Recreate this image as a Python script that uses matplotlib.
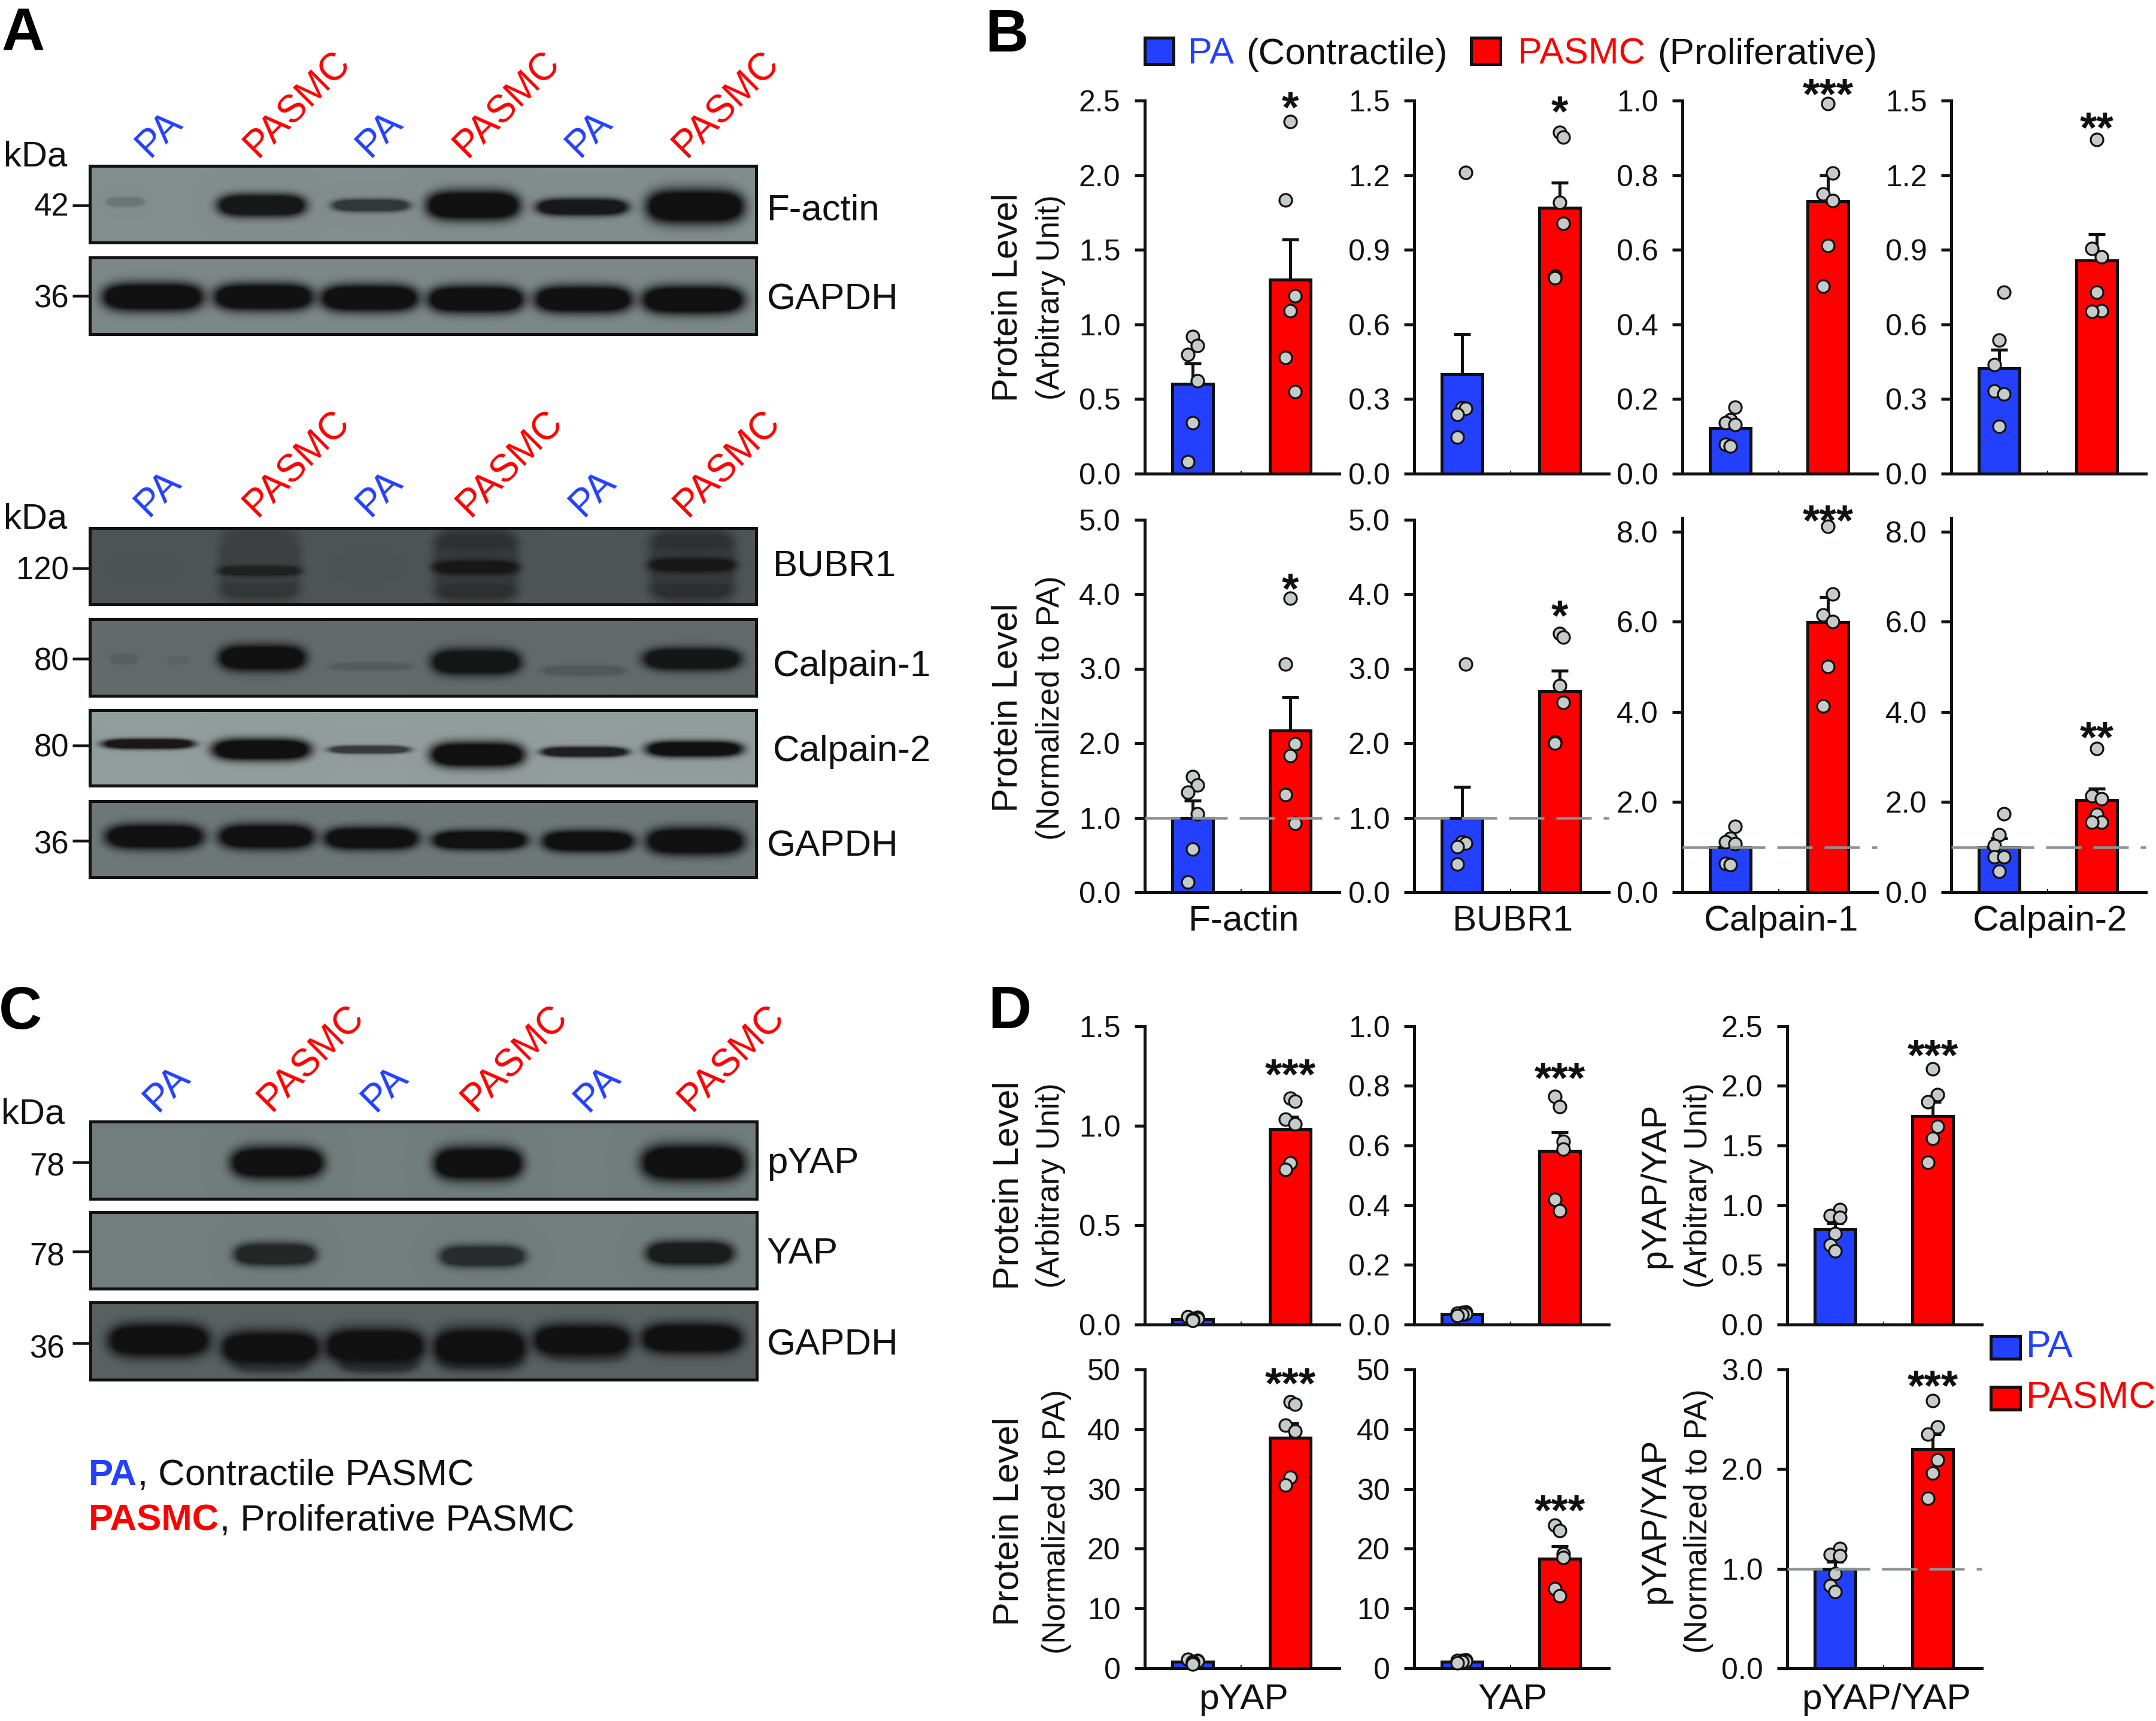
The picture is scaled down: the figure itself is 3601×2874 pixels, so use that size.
import numpy as np
import matplotlib
matplotlib.use("Agg")
import matplotlib.pyplot as plt
from matplotlib.patches import Rectangle

plt.rcParams['font.family'] = ['Liberation Sans', 'DejaVu Sans']
plt.rcParams['lines.scale_dashes'] = False

W, H = 3601, 2874
DPI = 100
PT = 72 / DPI  # points per pixel
TY = 6  # optical centring of text, px

BLUE = '#2340FF'
RED = '#FF0000'
DOT = '#C4CBC8'
INK = '#111111'
DASH = '#8B9393'

groups = ['PA', 'PASMC']

# ---------- panel B, arbitrary units ----------
factin_au_mean = [0.60, 1.30]
factin_au_sem = [0.14, 0.27]
factin_au_pa = [0.92, 0.86, 0.80, 0.62, 0.34, 0.08]
factin_au_pasmc = [2.36, 1.835, 1.19, 1.09, 0.78, 0.55]
bubr1_au_mean = [0.40, 1.07]
bubr1_au_sem = [0.16, 0.10]
bubr1_au_pa = [1.21, 0.266, 0.263, 0.238, 0.148]
bubr1_au_pasmc = [1.372, 1.354, 1.09, 1.007, 0.794, 0.788]
calp1_au_mean = [0.122, 0.731]
calp1_au_sem = [0.018, 0.069]
calp1_au_pa = [0.178, 0.144, 0.136, 0.132, 0.078, 0.074]
calp1_au_pasmc = [0.992, 0.805, 0.749, 0.732, 0.611, 0.503]
calp2_au_mean = [0.424, 0.856]
calp2_au_sem = [0.074, 0.106]
calp2_au_pa = [0.73, 0.536, 0.438, 0.333, 0.321, 0.191]
calp2_au_pasmc = [1.344, 0.905, 0.871, 0.73, 0.655, 0.652]

# ---------- panel B, normalized ----------
factin_n_mean = [1.0, 2.166]
factin_n_sem = [0.23, 0.454]
factin_n_pa = [1.55, 1.44, 1.34, 1.05, 0.58, 0.14]
factin_n_pasmc = [3.94, 3.06, 1.99, 1.83, 1.31, 0.92]
bubr1_n_mean = [1.0, 2.70]
bubr1_n_sem = [0.41, 0.27]
bubr1_n_pa = [3.06, 0.675, 0.66, 0.61, 0.38]
bubr1_n_pasmc = [3.47, 3.42, 2.77, 2.55, 2.02, 2.0]
calp1_n_mean = [1.0, 5.99]
calp1_n_sem = [0.16, 0.56]
calp1_n_pa = [1.46, 1.20, 1.12, 1.08, 0.64, 0.61]
calp1_n_pasmc = [8.12, 6.61, 6.15, 6.0, 5.0, 4.13]
calp2_n_mean = [1.0, 2.04]
calp2_n_sem = [0.19, 0.26]
calp2_n_pa = [1.74, 1.28, 1.04, 0.79, 0.78, 0.46]
calp2_n_pasmc = [3.19, 2.14, 2.07, 1.73, 1.56, 1.56]

# ---------- panel D, arbitrary units ----------
pyap_au_mean = [0.027, 0.98]
pyap_au_sem = [0.004, 0.063]
pyap_au_pa = [0.040, 0.036, 0.030, 0.028, 0.022, 0.020]
pyap_au_pasmc = [1.137, 1.122, 1.033, 1.007, 0.812, 0.778]
yap_au_mean = [0.035, 0.582]
yap_au_sem = [0.003, 0.063]
yap_au_pa = [0.042, 0.040, 0.038, 0.036, 0.034, 0.030]
yap_au_pasmc = [0.764, 0.731, 0.613, 0.588, 0.42, 0.382]
ratio_au_mean = [0.80, 1.748]
ratio_au_sem = [0.05, 0.119]
ratio_au_pa = [0.962, 0.912, 0.90, 0.76, 0.668, 0.616]
ratio_au_pasmc = [2.142, 1.925, 1.867, 1.66, 1.56, 1.359]

# ---------- panel D, normalized ----------
pyap_n_mean = [1.09, 38.6]
pyap_n_sem = [0.15, 2.4]
pyap_n_pa = [1.5, 1.35, 1.2, 1.1, 0.9, 0.7]
pyap_n_pasmc = [44.6, 44.2, 40.7, 39.7, 32.0, 30.7]
yap_n_mean = [1.09, 18.3]
yap_n_sem = [0.10, 2.1]
yap_n_pa = [1.4, 1.35, 1.3, 1.2, 1.1, 0.95]
yap_n_pasmc = [23.9, 23.0, 19.1, 18.5, 13.3, 12.1]
ratio_n_mean = [1.0, 2.20]
ratio_n_sem = [0.07, 0.15]
ratio_n_pa = [1.20, 1.14, 1.13, 0.95, 0.83, 0.77]
ratio_n_pasmc = [2.69, 2.42, 2.35, 2.09, 1.96, 1.71]

# horizontal scatter of the dots, one pattern per panel column
factin_jit_pa = [0, .05, -.05, .05, 0, -.05]
factin_jit_pasmc = [0, -.05, .05, 0, -.05, .05]
bubr1_jit_pa = [.04, 0, .04, -.05, -.05]
bubr1_jit_pasmc = [0, .04, 0, .04, -.05, -.05]
calp1_jit_pa = [.05, 0, -.05, .05, -.05, 0]
calp1_jit_pasmc = [0, .05, -.05, .05, 0, -.05]
calp2_jit_pa = [.05, 0, -.05, -.05, .05, 0]
calp2_jit_pasmc = [0, -.05, .05, 0, .05, -.05]
pyap_jit_pa = [-.05, .05, .05, 0, 0, 0]
pyap_jit_pasmc = [0, .05, -.05, .05, 0, -.05]
yap_jit_pa = [.04, 0, -.05, .04, 0, -.05]
yap_jit_pasmc = [-.05, 0, .04, .04, -.05, 0]
ratio_jit_pa = [.05, -.05, .05, 0, -.05, 0]
ratio_jit_pasmc = [0, .05, -.05, .05, 0, -.05]

# ticks
ticks_25 = [0.0, 0.5, 1.0, 1.5, 2.0, 2.5]
ticks_15_3 = [0.0, 0.3, 0.6, 0.9, 1.2, 1.5]
ticks_10_2 = [0.0, 0.2, 0.4, 0.6, 0.8, 1.0]
ticks_50_1 = [0.0, 1.0, 2.0, 3.0, 4.0, 5.0]
ticks_80 = [0.0, 2.0, 4.0, 6.0, 8.0]
ticks_15_5 = [0.0, 0.5, 1.0, 1.5]
ticks_50int = [0, 10, 20, 30, 40, 50]
ticks_30 = [0.0, 1.0, 2.0, 3.0]

# significance marks and the height they sit at
stars_b_top = ['*', '*', '***', '**']
stars_b_top_y = [2.51, 1.488, 1.039, 1.424]
stars_b_bot = ['*', '*', '***', '**']
stars_b_bot_y = [4.18, 3.82, 8.43, 3.62]
stars_d_top = ['***', '***', '***']
stars_d_top_y = [1.298, 0.854, 2.324]
stars_d_bot = ['***', '***', '***']
stars_d_bot_y = [49.07, 27.8, 2.915]

xlabels_b = ['F-actin', 'BUBR1', 'Calpain-1', 'Calpain-2']
xlabels_d = ['pYAP', 'YAP', 'pYAP/YAP']

fig = plt.figure(figsize=(W / DPI, H / DPI), dpi=DPI, facecolor='white')


def px_axes(x0, top, x1, bottom, **kw):
    return fig.add_axes([x0 / W, 1 - bottom / H, (x1 - x0) / W, (bottom - top) / H], **kw)


def bar_panel(x0, top, bottom, ymax, ticks, fmt, mean, sem, pa, pasmc, jit_pa, jit_pasmc,
              star, star_y, xlabel=None, xlabel_y=None, ref=False):
    ax = px_axes(x0, top, x0 + 325, bottom)
    ax.set_xlim(-0.49, 1.504)
    ax.set_ylim(0, ymax)
    ax.patch.set_alpha(0)
    lw = 5 * PT
    ax.bar([0, 1], mean, width=0.417, color=[BLUE, RED], edgecolor=INK, linewidth=lw, zorder=2)
    for i in (0, 1):
        ax.errorbar(i, mean[i], yerr=[[0], [sem[i]]], color=INK, elinewidth=lw,
                    capsize=14 * PT, capthick=lw, zorder=1.5, fmt='none')
    ax.plot(np.array(jit_pa), pa, 'o', ms=21 * PT, mfc=DOT, mec=INK, mew=3.2 * PT, zorder=4, clip_on=False)
    ax.plot(1 + np.array(jit_pasmc), pasmc, 'o', ms=21 * PT, mfc=DOT, mec=INK, mew=3.2 * PT, zorder=4, clip_on=False)
    if ref:
        ax.plot([-0.49, 1.504], [1, 1], color=DASH, lw=4.5 * PT, dashes=(59 * PT, 20 * PT),
                dash_capstyle='butt', zorder=5, clip_on=False)
    for s in ('top', 'right'):
        ax.spines[s].set_visible(False)
    for s in ('left', 'bottom'):
        ax.spines[s].set_linewidth(lw)
        ax.spines[s].set_color(INK)
    ax.set_xticks([0.5])
    ax.set_xticklabels([''])
    ax.tick_params(axis='x', length=5 * PT, width=2 * PT, direction='in', color=INK)
    ax.set_yticks(ticks)
    ax.set_yticklabels([fmt % t for t in ticks], fontsize=36, color=INK)
    ax.tick_params(axis='y', length=17 * PT, width=lw, pad=17, color=INK)
    em = 73
    y_px = bottom - (bottom - top) * star_y / ymax + 0.58 * em - 5
    ov.text(x0 + 243, y_px, star, fontsize=em * PT, fontweight='bold', ha='center', va='baseline', color=INK)
    if xlabel:
        ov.text(x0 + 165, xlabel_y, xlabel, fontsize=43.5, ha='center', va='center', color=INK)
    return ax


# overlay in pixel coordinates for everything that is not a plot
ov = fig.add_axes([0, 0, 1, 1], zorder=10)
ov.set_xlim(0, W)
ov.set_ylim(H, 0)
ov.axis('off')

XS = [1912, 2362, 2810, 3259]
# panel B
B1 = (168, 791)
B2 = (867.5, 1490)
bar_panel(XS[0], *B1, 2.5, ticks_25, '%.1f', factin_au_mean, factin_au_sem, factin_au_pa, factin_au_pasmc, factin_jit_pa, factin_jit_pasmc, stars_b_top[0], stars_b_top_y[0])
bar_panel(XS[1], *B1, 1.5, ticks_15_3, '%.1f', bubr1_au_mean, bubr1_au_sem, bubr1_au_pa, bubr1_au_pasmc, bubr1_jit_pa, bubr1_jit_pasmc, stars_b_top[1], stars_b_top_y[1])
bar_panel(XS[2], *B1, 1.0, ticks_10_2, '%.1f', calp1_au_mean, calp1_au_sem, calp1_au_pa, calp1_au_pasmc, calp1_jit_pa, calp1_jit_pasmc, stars_b_top[2], stars_b_top_y[2])
bar_panel(XS[3], *B1, 1.5, ticks_15_3, '%.1f', calp2_au_mean, calp2_au_sem, calp2_au_pa, calp2_au_pasmc, calp2_jit_pa, calp2_jit_pasmc, stars_b_top[3], stars_b_top_y[3])
XLB = 1538
bar_panel(XS[0], *B2, 5.0, ticks_50_1, '%.1f', factin_n_mean, factin_n_sem, factin_n_pa, factin_n_pasmc, factin_jit_pa, factin_jit_pasmc, stars_b_bot[0], stars_b_bot_y[0], xlabels_b[0], XLB, True)
bar_panel(XS[1], *B2, 5.0, ticks_50_1, '%.1f', bubr1_n_mean, bubr1_n_sem, bubr1_n_pa, bubr1_n_pasmc, bubr1_jit_pa, bubr1_jit_pasmc, stars_b_bot[1], stars_b_bot_y[1], xlabels_b[1], XLB, True)
bar_panel(XS[2], 865, 1490, 8.3, ticks_80, '%.1f', calp1_n_mean, calp1_n_sem, calp1_n_pa, calp1_n_pasmc, calp1_jit_pa, calp1_jit_pasmc, stars_b_bot[2], stars_b_bot_y[2], xlabels_b[2], XLB, True)
bar_panel(XS[3], 865, 1490, 8.3, ticks_80, '%.1f', calp2_n_mean, calp2_n_sem, calp2_n_pa, calp2_n_pasmc, calp2_jit_pa, calp2_jit_pasmc, stars_b_bot[3], stars_b_bot_y[3], xlabels_b[3], XLB, True)

# panel D
XD = [1912, 2362, 2985]
D1 = (1713.6, 2212)
D2 = (2287, 2786)
XLD = 2838
bar_panel(XD[0], *D1, 1.5, ticks_15_5, '%.1f', pyap_au_mean, pyap_au_sem, pyap_au_pa, pyap_au_pasmc, pyap_jit_pa, pyap_jit_pasmc, stars_d_top[0], stars_d_top_y[0])
bar_panel(XD[1], *D1, 1.0, ticks_10_2, '%.1f', yap_au_mean, yap_au_sem, yap_au_pa, yap_au_pasmc, yap_jit_pa, yap_jit_pasmc, stars_d_top[1], stars_d_top_y[1])
bar_panel(XD[2], *D1, 2.5, ticks_25, '%.1f', ratio_au_mean, ratio_au_sem, ratio_au_pa, ratio_au_pasmc, ratio_jit_pa, ratio_jit_pasmc, stars_d_top[2], stars_d_top_y[2])
bar_panel(XD[0], *D2, 50, ticks_50int, '%d', pyap_n_mean, pyap_n_sem, pyap_n_pa, pyap_n_pasmc, pyap_jit_pa, pyap_jit_pasmc, stars_d_bot[0], stars_d_bot_y[0], xlabels_d[0], XLD)
bar_panel(XD[1], *D2, 50, ticks_50int, '%d', yap_n_mean, yap_n_sem, yap_n_pa, yap_n_pasmc, yap_jit_pa, yap_jit_pasmc, stars_d_bot[1], stars_d_bot_y[1], xlabels_d[1], XLD)
bar_panel(XD[2], *D2, 3.0, ticks_30, '%.1f', ratio_n_mean, ratio_n_sem, ratio_n_pa, ratio_n_pasmc, ratio_jit_pa, ratio_jit_pasmc, stars_d_bot[2], stars_d_bot_y[2], xlabels_d[2], XLD, True)


def vtext(x, y, s, size):
    ov.text(x, y, s, fontsize=size, rotation=90, ha='center', va='center', color=INK)


vtext(1683, 497, 'Protein Level', 43)
vtext(1755, 497, '(Arbitrary Unit)', 38)
vtext(1683, 1182, 'Protein Level', 43)
vtext(1755, 1182, '(Normalized to PA)', 38)
vtext(1685, 1980, 'Protein Level', 43)
vtext(1755, 1980, '(Arbitrary Unit)', 38)
vtext(1685, 2541, 'Protein Level', 43)
vtext(1765, 2541, '(Normalized to PA)', 38)
vtext(2765, 1980, 'pYAP/YAP', 42.5)
vtext(2837, 1980, '(Arbitrary Unit)', 38)
vtext(2765, 2540, 'pYAP/YAP', 42.5)
vtext(2837, 2540, '(Normalized to PA)', 38)


# ---------- legends ----------
def swatch(x0, y0, x1, y1, color):
    ov.add_patch(Rectangle((x0, y0), x1 - x0, y1 - y0, facecolor=color, edgecolor=INK, linewidth=5 * PT))


swatch(1912, 63, 1960, 107, BLUE)
swatch(2457, 63, 2506, 107, RED)
ov.text(1984, 85 + TY, 'PA', fontsize=44, color=BLUE, ha='left', va='center')
ov.text(2081, 85 + TY, '(Contractile)', fontsize=44.5, color=INK, ha='left', va='center')
ov.text(2535, 85 + TY, 'PASMC', fontsize=44, color=RED, ha='left', va='center')
ov.text(2768, 85 + TY, '(Proliferative)', fontsize=44.5, color=INK, ha='left', va='center')

swatch(3325, 2231, 3374, 2269, BLUE)
swatch(3325, 2316, 3374, 2354, RED)
ov.text(3384, 2250, 'PA', fontsize=45, color=BLUE, ha='left', va='center')
ov.text(3384, 2330 + 5, 'PASMC', fontsize=45, color=RED, ha='left', va='center')

# panel letters
for letter, x, y in (('A', 3, 84), ('B', 1645, 86), ('C', -2, 1718), ('D', 1650, 1717)):
    ov.text(x, y, letter, fontsize=72, fontweight='bold', color='black', ha='left', va='baseline')

# ---------- blots ----------
# bands: start, end, centre, half height, strength (crop coordinates of the film)
fact_bands = [(175, 235, 352, 8, .2), (358, 498, 358, 20, .95), (545, 668, 358, 11, .7),
              (700, 848, 358, 26, 1), (880, 1025, 361, 15, .95), (1060, 1215, 360, 30, 1)]
gapdh1_bands = [(170, 330, 518, 25, 1), (352, 510, 518, 24, 1), (527, 682, 520, 24, 1),
                (702, 855, 522, 24, 1), (877, 1032, 522, 24, 1), (1053, 1215, 523, 25, 1)]
bubr_bands = [(360, 490, 985, 75, .3), (360, 490, 996, 9, .65), (360, 490, 1030, 12, .2),
              (712, 845, 985, 75, .42), (712, 845, 990, 12, .85), (712, 845, 945, 12, .2), (712, 845, 1032, 12, .25),
              (1065, 1200, 985, 75, .42), (1065, 1200, 986, 12, .85), (1065, 1200, 945, 12, .2), (1065, 1200, 1030, 12, .25),
              (540, 660, 990, 30, .04), (170, 300, 990, 30, .03)]
calp1_bands = [(180, 225, 1150, 9, .12), (275, 310, 1152, 7, .08), (360, 498, 1148, 23, 1), (540, 670, 1163, 7, .15),
               (708, 850, 1155, 23, .95), (890, 1020, 1170, 9, .2), (1055, 1210, 1150, 20, .95)]
calp2_bands = [(170, 315, 1298, 9, .95), (350, 505, 1308, 19, 1), (540, 668, 1308, 7, .7),
               (707, 855, 1317, 22, 1), (888, 1025, 1312, 9, .9), (1060, 1212, 1307, 14, 1)]
gapdh2_bands = [(175, 330, 1460, 22, 1), (360, 512, 1460, 22, 1), (533, 682, 1463, 20, 1),
                (710, 860, 1466, 17, 1), (890, 1035, 1468, 19, 1), (1060, 1215, 1468, 24, 1)]
pyap_bands = [(380, 527, 535, 42, 1), (712, 853, 537, 44, 1), (1052, 1217, 535, 48, 1)]
yap_bands = [(385, 515, 775, 30, .8), (722, 857, 780, 29, .75), (1060, 1198, 772, 32, .9)]
gapdh3_bands = [(180, 340, 1000, 44, 1), (365, 520, 1020, 44, 1), (535, 692, 1015, 46, 1),
                (712, 858, 1018, 50, 1), (875, 1030, 1000, 42, 1), (1052, 1212, 995, 40, 1),
                (385, 500, 1060, 25, .4), (560, 680, 1060, 25, .55), (720, 850, 1050, 25, .4),
                (900, 1020, 1040, 18, .25)]

AX = 1600 / 1568
AY = 1500 / 1568
CY = 1000 / 1568


def blot(top, bottom, bands, bg, yfun, x0=150, x1=1263):
    h = int(bottom - top)
    w = int(x1 - x0)
    X, Y = np.meshgrid(np.arange(w) + x0, np.arange(h) + top)
    keep = np.ones((h, w))
    for a, b, c, hh, s in bands:
        xc, xh = (a + b) / 2 * AX, (b - a) / 2 * AX * 1.04
        yc, yh = yfun(c), hh * yfun.scale
        # rounded blob: flat in the middle, soft at the rim, saturating like film
        shape = np.exp(-np.abs((X - xc) / xh) ** 7 - np.abs((Y - yc) / yh) ** 2.6
                       - 0.8 * (np.abs((X - xc) / xh) ** 4) * (np.abs((Y - yc) / yh) ** 2))
        keep *= 1 - s * np.minimum(1.0, 1.6 * shape)
    img = np.zeros((h, w, 3))
    dark = np.array([.07, .07, .07])
    bgc = np.array(matplotlib.colors.to_rgb(bg))
    for k in range(3):
        img[..., k] = bgc[k] * keep + dark[k] * (1 - keep)
    ax = px_axes(x0, top, x1, bottom)
    ax.imshow(img, aspect='auto', interpolation='bilinear')
    ax.set_xticks([])
    ax.set_yticks([])
    for s in ax.spines.values():
        s.set_linewidth(5 * PT)
        s.set_color(INK)


class YA:
    scale = AY
    def __call__(self, z):
        return z * AY


class YC:
    scale = CY
    def __call__(self, z):
        return 1600 + z * CY


ya, yc = YA(), YC()
blot(277, 405, fact_bands, '#838D8D', ya)
blot(430, 558, gapdh1_bands, '#7E8888', ya)
blot(882, 1009, bubr_bands, '#4F5555', ya)
blot(1034, 1162, calp1_bands, '#626A6A', ya)
blot(1186, 1312, calp2_bands, '#939D9B', ya)
blot(1338, 1465, gapdh2_bands, '#6F7878', ya)
blot(1873, 2002, pyap_bands, '#727D7D', yc, 151, 1264)
blot(2024, 2152, yap_bands, '#727D7D', yc, 151, 1264)
blot(2175, 2304, gapdh3_bands, '#596161', yc, 151, 1264)


def lane_labels(pts):
    for (x, y), g in zip(pts, groups * 3):
        ov.text(x + 3, y - 3, g, fontsize=46, rotation=45, ha='center', va='center',
                rotation_mode='anchor', color=BLUE if g == 'PA' else RED)


lane_labels([(263, 227), (494, 177), (631, 227), (844, 177), (981, 227), (1210, 177)])
lane_labels([(261, 827), (493, 777), (631, 827), (849, 777), (987, 827), (1212, 777)])
lane_labels([(276, 1821), (517, 1770), (640, 1821), (857, 1770), (995, 1821), (1219, 1770)])


def kda(y, x=6):
    ov.text(x, y + TY, 'kDa', fontsize=43, ha='left', va='center', color=INK)


kda(256); kda(861); kda(1855, 2)


def mw(label, y, tick_y, right=115, t0=121, t1=150):
    ov.text(right, y + 5, label, fontsize=38, ha='right', va='center', color=INK)
    ov.plot([t0, t1], [tick_y, tick_y], color=INK, lw=4.5 * PT, solid_capstyle='butt')


mw('42', 341, 343); mw('36', 495, 494); mw('120', 949, 949)
mw('80', 1100, 1100); mw('80', 1244, 1245); mw('36', 1406, 1404)
mw('78', 1945, 1941, 108); mw('78', 2094, 2090, 108); mw('36', 2248, 2243, 108)


def blot_name(x, y, s):
    ov.text(x - 3, y + TY, s, fontsize=44.5, ha='left', va='center', color=INK)


blot_name(1284, 346, 'F-actin'); blot_name(1284, 495, 'GAPDH')
blot_name(1294, 940, 'BUBR1'); blot_name(1294, 1108, 'Calpain-1')
blot_name(1294, 1250, 'Calpain-2'); blot_name(1284, 1408, 'GAPDH')
blot_name(1284, 1938, 'pYAP'); blot_name(1284, 2088, 'YAP'); blot_name(1284, 2241, 'GAPDH')


# ---------- note under panel C ----------
def note(y, head, color, tail):
    r = fig.canvas.get_renderer()
    t = ov.text(148, y + 7, head, fontsize=44.5, fontweight='bold', color=color, ha='left', va='center')
    end = t.get_window_extent(r).x1
    ov.text(end + 1, y + 7, tail, fontsize=44.5, color=INK, ha='left', va='center')


note(2458, 'PA', BLUE, ', Contractile PASMC')
note(2533, 'PASMC', RED, ', Proliferative PASMC')

fig.savefig('out.png', dpi=DPI, facecolor='white')
